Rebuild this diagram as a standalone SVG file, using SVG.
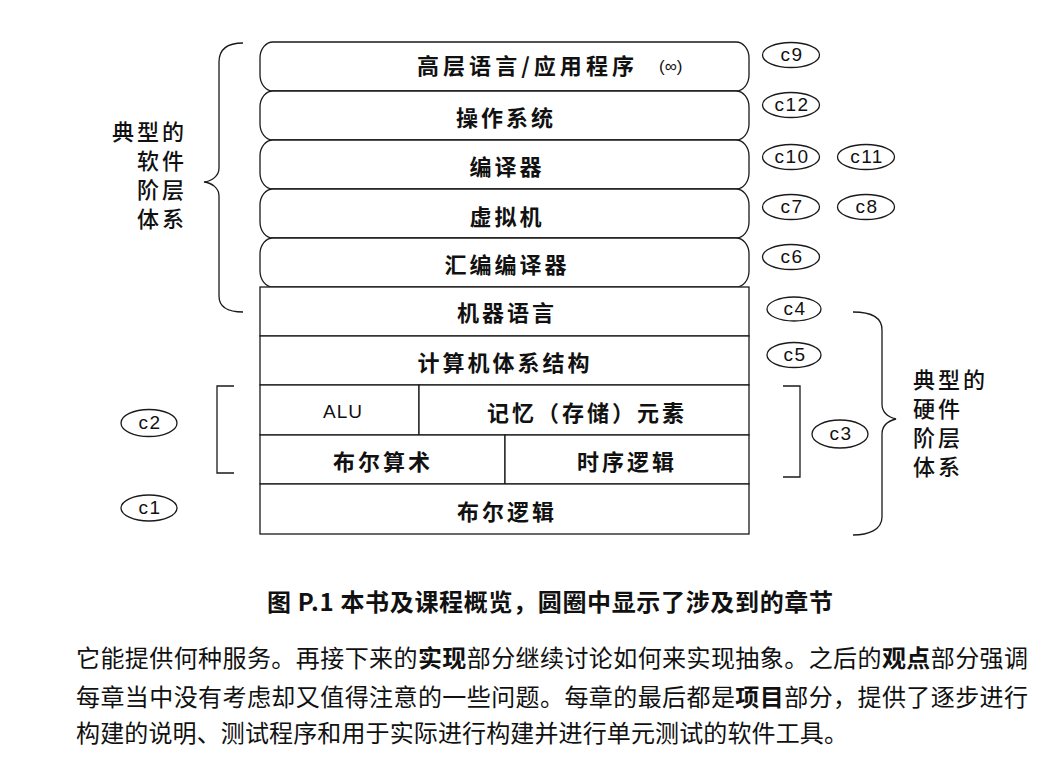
<svg xmlns="http://www.w3.org/2000/svg" width="1058" height="777" viewBox="0 0 1058 777">
<style>
.ln{fill:none;stroke:#1a1a1a;stroke-width:1.3}
.box{fill:#fff;stroke:#1a1a1a;stroke-width:1.3}
.lay{font-family:"Noto Sans CJK SC","Noto Sans",sans-serif;font-size:22px;font-weight:700;letter-spacing:3px;fill:#111;text-anchor:middle}
.lbl{font-family:"Noto Sans CJK SC","Noto Sans",sans-serif;font-size:22px;font-weight:500;letter-spacing:3px;fill:#111}
.ch{font-family:"Liberation Sans",Arial,sans-serif;font-size:19px;letter-spacing:1.5px;fill:#111;text-anchor:middle}
.cap{font-family:"Noto Sans CJK SC","Noto Sans",sans-serif;font-size:24px;font-weight:700;fill:#111}
.body{font-family:"Noto Sans CJK SC","Noto Sans",sans-serif;font-size:24px;font-weight:400;fill:#111}
.b{font-weight:700}
</style>
<rect width="1058" height="777" fill="#fff"/>

<g id="software-layers">
  <g id="layer-hll">
    <rect class="box" x="260" y="42" width="489" height="49" rx="13" ry="16"/>
    <text class="lay" x="417" y="74" style="text-anchor:start" textLength="220" lengthAdjust="spacing">高层语言/应用程序</text>
    <text x="659" y="72" font-family="Liberation Sans,Arial,sans-serif" font-size="17" fill="#111">(∞)</text>
  </g>
  <g id="layer-os">
    <rect class="box" x="260" y="91" width="489" height="49" rx="13" ry="16"/>
    <text class="lay" x="506" y="126">操作系统</text>
  </g>
  <g id="layer-compiler">
    <rect class="box" x="260" y="140" width="489" height="49" rx="13" ry="16"/>
    <text class="lay" x="507" y="175">编译器</text>
  </g>
  <g id="layer-vm">
    <rect class="box" x="260" y="189" width="489" height="49" rx="13" ry="16"/>
    <text class="lay" x="507" y="225">虚拟机</text>
  </g>
  <g id="layer-assembler">
    <rect class="box" x="260" y="238" width="489" height="49" rx="13" ry="16"/>
    <text class="lay" x="507" y="273">汇编编译器</text>
  </g>
</g>

<g id="hardware-layers">
  <g id="layer-machine">
    <rect class="box" x="260" y="287" width="489" height="49"/>
    <text class="lay" x="507" y="321">机器语言</text>
  </g>
  <g id="layer-arch">
    <rect class="box" x="260" y="336" width="489" height="49"/>
    <text class="lay" x="505" y="371">计算机体系结构</text>
  </g>
  <g id="layer-alu">
    <rect class="box" x="260" y="385" width="159" height="50"/>
    <text class="ch" x="343" y="418" style="font-size:19px;letter-spacing:1px">ALU</text>
  </g>
  <g id="layer-memory">
    <rect class="box" x="419" y="385" width="330" height="50"/>
    <text class="lay" x="587" y="421">记忆（存储）元素</text>
  </g>
  <g id="layer-bool-arith">
    <rect class="box" x="260" y="435" width="245" height="49"/>
    <text class="lay" x="383" y="470">布尔算术</text>
  </g>
  <g id="layer-seq-logic">
    <rect class="box" x="505" y="435" width="244" height="49"/>
    <text class="lay" x="627" y="470">时序逻辑</text>
  </g>
  <g id="layer-bool-logic">
    <rect class="box" x="260" y="484" width="489" height="50"/>
    <text class="lay" x="507" y="520">布尔逻辑</text>
  </g>
</g>

<g id="chapters">
  <g id="c9"><ellipse class="ln" cx="791" cy="55" rx="28.5" ry="12.5"/><text class="ch" x="792" y="61">c9</text></g>
  <g id="c12"><ellipse class="ln" cx="791" cy="105" rx="28.5" ry="12.5"/><text class="ch" x="792" y="111">c12</text></g>
  <g id="c10"><ellipse class="ln" cx="791" cy="157" rx="28.5" ry="12.5"/><text class="ch" x="792" y="163">c10</text></g>
  <g id="c11"><ellipse class="ln" cx="866" cy="157" rx="28.5" ry="12.5"/><text class="ch" x="867" y="163">c11</text></g>
  <g id="c7"><ellipse class="ln" cx="791" cy="207" rx="28.5" ry="12.5"/><text class="ch" x="792" y="213">c7</text></g>
  <g id="c8"><ellipse class="ln" cx="866" cy="207" rx="28.5" ry="12.5"/><text class="ch" x="867" y="213">c8</text></g>
  <g id="c6"><ellipse class="ln" cx="791" cy="257" rx="28.5" ry="12.5"/><text class="ch" x="792" y="263">c6</text></g>
  <g id="c4"><ellipse class="ln" cx="794" cy="309" rx="27" ry="12"/><text class="ch" x="795" y="315">c4</text></g>
  <g id="c5"><ellipse class="ln" cx="794" cy="355" rx="27" ry="12.5"/><text class="ch" x="795" y="361">c5</text></g>
  <g id="c3"><ellipse class="ln" cx="840" cy="434" rx="28" ry="14"/><text class="ch" x="841" y="440">c3</text></g>
  <g id="c2"><ellipse class="ln" cx="149" cy="423" rx="28" ry="13.5"/><text class="ch" x="150" y="429">c2</text></g>
  <g id="c1"><ellipse class="ln" cx="149" cy="508" rx="28" ry="13"/><text class="ch" x="150" y="514">c1</text></g>
</g>

<g id="connectors">
  <path class="ln" d="M243,43 C228,43 219,48 219,62 L219,168 C219,176 212,181 204,182 C212,183 219,188 219,196 L219,296 C219,307 228,312 243,312"/>
  <path class="ln" d="M853,312 C868,312 882,316 882,330 L882,404 C882,412 888,417 896,419 C888,421 882,426 882,434 L882,517 C882,530 868,535 853,535"/>
  <path class="ln" d="M234,386 L217,386 L217,473 L234,473"/>
  <path class="ln" d="M783,386 L800,386 L800,477 L783,477"/>
</g>

<g id="label-software">
  <text class="lbl" x="112" y="140">典型的</text>
  <text class="lbl" x="137" y="169">软件</text>
  <text class="lbl" x="137" y="198">阶层</text>
  <text class="lbl" x="137" y="227">体系</text>
</g>
<g id="label-hardware">
  <text class="lbl" x="913" y="388">典型的</text>
  <text class="lbl" x="913" y="417">硬件</text>
  <text class="lbl" x="913" y="446">阶层</text>
  <text class="lbl" x="913" y="475">体系</text>
</g>

<g id="caption">
  <text class="cap" x="267" y="611" textLength="566" lengthAdjust="spacing">图 P.1 本书及课程概览，圆圈中显示了涉及到的章节</text>
</g>
<g id="body-text">
  <text class="body" x="76" y="667" textLength="952" lengthAdjust="spacing">它能提供何种服务。再接下来的<tspan class="b">实现</tspan>部分继续讨论如何来实现抽象。之后的<tspan class="b">观点</tspan>部分强调</text>
  <text class="body" x="76" y="706" textLength="952" lengthAdjust="spacing">每章当中没有考虑却又值得注意的一些问题。每章的最后都是<tspan class="b">项目</tspan>部分，提供了逐步进行</text>
  <text class="body" x="76" y="742" textLength="772" lengthAdjust="spacing">构建的说明、测试程序和用于实际进行构建并进行单元测试的软件工具。</text>
</g>
</svg>
